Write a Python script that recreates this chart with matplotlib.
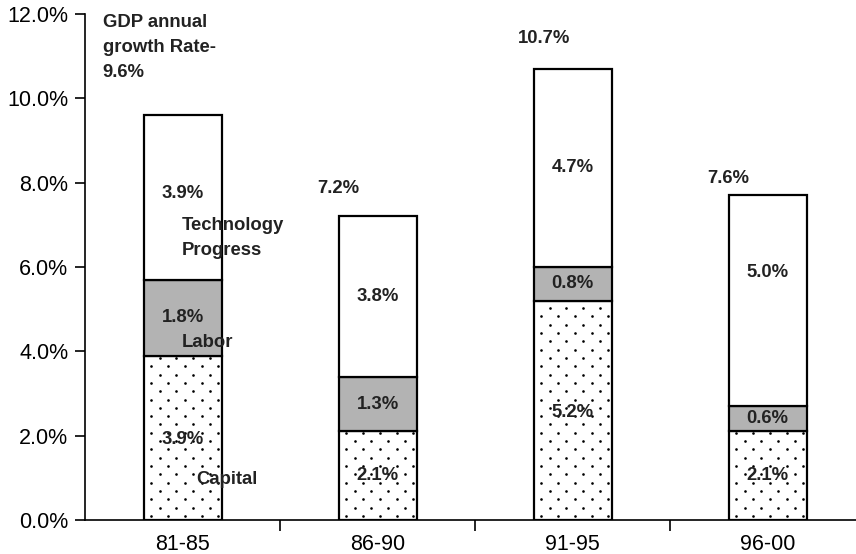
import matplotlib
matplotlib.use("Agg")
import matplotlib.pyplot as plt
import numpy as np
from matplotlib.ticker import FuncFormatter, FixedLocator

periods = ["81-85", "86-90", "91-95", "96-00"]
capital = [3.9, 2.1, 5.2, 2.1]
labor = [1.8, 1.3, 0.8, 0.6]
technology = [3.9, 3.8, 4.7, 5.0]
totals = [9.6, 7.2, 10.7, 7.6]

plt.rcParams['font.family'] = ['Liberation Sans', 'DejaVu Sans']

fig = plt.figure(figsize=(8.56, 5.54), dpi=100)
ax = fig.add_axes([85/856, 34/554, 1 - 85/856 + 0.006, (520-14)/554])

x = np.arange(len(periods))
w = 0.40
cap = np.array(capital)
lab = np.array(labor)
tec = np.array(technology)

cap_bars = ax.bar(x, cap, w, color='white', edgecolor='black', linewidth=1.6, zorder=3)
ax.bar(x, lab, w, bottom=cap, color='#b3b3b3', edgecolor='black', linewidth=1.6, zorder=3)
ax.bar(x, tec, w, bottom=cap+lab, color='white', edgecolor='black', linewidth=1.6, zorder=3)

ax.set_xlim(-0.5, 3.48)
ax.set_ylim(0, 12)

# dotted texture for the capital segments (staggered dot lattice)
dx = 0.086   # horizontal spacing within a row (data units)
dy = 0.197   # vertical spacing between rows (percentage points)
for patch in cap_bars.patches:
    x0, y0 = patch.get_x(), patch.get_y()
    pw, ph = patch.get_width(), patch.get_height()
    rows = np.arange(y0 + dy * 0.5, y0 + ph, dy)
    px, py = [], []
    for r, yy in enumerate(rows):
        start = x0 + (0.04 if r % 2 == 0 else 0.04 + dx / 2)
        cols = np.arange(start, x0 + pw - 0.01, dx)
        px.extend(cols)
        py.extend([yy] * len(cols))
    sc = ax.scatter(px, py, s=3.6, color='black', linewidths=0, zorder=4)
    sc.set_clip_path(patch)

ax.yaxis.set_major_locator(FixedLocator(np.arange(0, 12.01, 2)))
ax.yaxis.set_major_formatter(FuncFormatter(lambda v, p: f"{v:.1f}%"))
ax.set_xticks(x)
ax.set_xticklabels(periods)
ax.set_xticks([0.5, 1.5, 2.5], minor=True)
ax.tick_params(axis='x', which='major', length=0, labelsize=15.5, pad=10)
ax.tick_params(axis='x', which='minor', length=8, width=1.2, direction='out')
ax.tick_params(axis='y', labelsize=15.5, length=7, width=1.2, direction='out', pad=5)
for s in ['top', 'right']:
    ax.spines[s].set_visible(False)
for s in ['left', 'bottom']:
    ax.spines[s].set_linewidth(1.2)

fs = 13.3
bold = dict(fontsize=fs, fontweight='bold', color='#222222', zorder=5)

# segment value labels
lab_y_cap = [cap[i]/2 for i in range(4)]
lab_y_lab = [cap[i] + lab[i]/2 for i in range(4)]
lab_y_tec = [cap[i] + lab[i] + tec[i]/2 for i in range(4)]
lab_y_cap[0] = 1.9
lab_y_cap[2] = 2.55
lab_y_tec[0] = 7.75
lab_y_tec[3] = 5.88
for i in range(4):
    ax.text(x[i], lab_y_cap[i], f"{capital[i]:.1f}%", ha='center', va='center', **bold)
    ax.text(x[i], lab_y_lab[i], f"{labor[i]:.1f}%", ha='center', va='center', **bold)
    ax.text(x[i], lab_y_tec[i], f"{technology[i]:.1f}%", ha='center', va='center', **bold)

# totals
ax.text(-0.41, 12.0, f"GDP annual\ngrowth Rate-\n{totals[0]:.1f}%", ha='left', va='top',
        linespacing=1.6, **bold)
ax.text(0.80, totals[1] + 0.67, f"{totals[1]:.1f}%", ha='center', va='center', **bold)
ax.text(1.856, totals[2] + 0.71, f"{totals[2]:.1f}%", ha='center', va='center', **bold)
ax.text(2.80, totals[3] + 0.51, f"{totals[3]:.1f}%", ha='center', va='center', **bold)

# component names
ax.text(-0.005, 6.69, "Technology\nProgress", ha='left', va='center', linespacing=1.6, **bold)
ax.text(-0.005, 4.22, "Labor", ha='left', va='center', **bold)
ax.text(0.07, 0.97, "Capital", ha='left', va='center', **bold)

fig.savefig("out.png", dpi=100)
